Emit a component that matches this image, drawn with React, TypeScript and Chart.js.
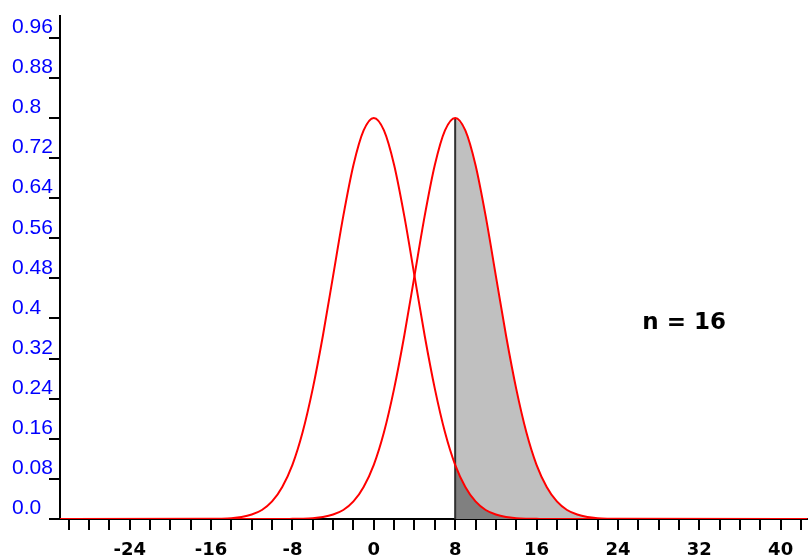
import React, { useEffect, useRef } from "react";
import { Chart, registerables } from "chart.js";

Chart.register(...registerables);

// x positions where the curves were read
const xGrid: number[] = [
  -31, -16, -15, -14, -13, -12, -11, -10, -9, -8, -7, -6, -5, -4, -3, -2, -1, 0, 1, 2, 3, 4, 5, 6, 7, 8, 9, 10,
  11, 12, 13, 14, 15, 16, 17, 18, 19, 20, 21, 22, 23, 24, 43,
];

// curve centred at 0 (null)
const nullDensity: number[] = [
  0, 0.0003, 0.0007, 0.0017, 0.004, 0.0089, 0.018, 0.035, 0.064, 0.108, 0.173, 0.26, 0.366, 0.485, 0.604,
  0.706, 0.775, 0.8, 0.775, 0.706, 0.604, 0.485, 0.366, 0.26, 0.173, 0.108, 0.064, 0.035, 0.018, 0.0089, 0.004,
  0.0017, 0.0007, 0.0003, 0, 0, 0, 0, 0, 0, 0, 0, 0,
];

// curve centred at 8 (alternative)
const altDensity: number[] = [
  0, 0, 0, 0, 0, 0, 0, 0, 0, 0.0003, 0.0007, 0.0017, 0.004, 0.0089, 0.018, 0.035, 0.064, 0.108, 0.173, 0.26,
  0.366, 0.485, 0.604, 0.706, 0.775, 0.8, 0.775, 0.706, 0.604, 0.485, 0.366, 0.26, 0.173, 0.108, 0.064, 0.035,
  0.018, 0.0089, 0.004, 0.0017, 0.0007, 0.0003, 0,
];

const criticalX = 8;
const criticalTop = 0.8;

const xTickValues: number[] = [
  -30, -28, -26, -24, -22, -20, -18, -16, -14, -12, -10, -8, -6, -4, -2, 0, 2, 4, 6, 8, 10, 12, 14, 16, 18, 20,
  22, 24, 26, 28, 30, 32, 34, 36, 38, 40, 42,
];
const xLabelledTicks: number[] = [-24, -16, -8, 0, 8, 16, 24, 32, 40];

const yTickValues: number[] = [0, 0.08, 0.16, 0.24, 0.32, 0.4, 0.48, 0.56, 0.64, 0.72, 0.8, 0.88, 0.96];
const yTickLabels: string[] = [
  "0.0", "0.08", "0.16", "0.24", "0.32", "0.4", "0.48", "0.56", "0.64", "0.72", "0.8", "0.88", "0.96",
];

const annotationText = "n = 16";
const annotationX = 26.4;
const annotationY = 0.378;

export default function App() {
  const canvasRef = useRef<HTMLCanvasElement | null>(null);

  useEffect(() => {
    document.body.style.margin = "0";
    const canvas = canvasRef.current;
    if (!canvas) return;

    const toPts = (ys: number[]) => xGrid.map((x, i) => ({ x, y: ys[i] }));
    const shade = (ys: number[]) =>
      xGrid.map((x, i) => ({ x, y: ys[i] })).filter((p) => p.x >= criticalX && p.x <= 24);

    const textPlugin = {
      id: "textPlugin",
      afterDraw(chart: any) {
        const { ctx, scales } = chart;
        const px = scales.x.getPixelForValue(annotationX);
        const py = scales.y.getPixelForValue(annotationY);
        ctx.save();
        ctx.fillStyle = "#000";
        ctx.font = "bold 23px 'DejaVu Sans'";
        ctx.textAlign = "left";
        ctx.textBaseline = "alphabetic";
        ctx.fillText(annotationText, px, py);
        ctx.restore();
      },
    };

    const chart = new Chart(canvas, {
      type: "scatter",
      data: {
        datasets: [
          {
            data: toPts(nullDensity),
            showLine: true,
            borderColor: "#ff0000",
            borderWidth: 2,
            pointRadius: 0,
            cubicInterpolationMode: "monotone",
            fill: false,
          },
          {
            data: toPts(altDensity),
            showLine: true,
            borderColor: "#ff0000",
            borderWidth: 2,
            pointRadius: 0,
            cubicInterpolationMode: "monotone",
            fill: false,
          },
          {
            data: [
              { x: criticalX, y: 0 },
              { x: criticalX, y: criticalTop },
            ],
            showLine: true,
            borderColor: "#303030",
            borderWidth: 2,
            pointRadius: 0,
            fill: false,
          },
          {
            data: shade(nullDensity),
            showLine: true,
            borderWidth: 0,
            borderColor: "rgba(0,0,0,0)",
            backgroundColor: "#808080",
            pointRadius: 0,
            cubicInterpolationMode: "monotone",
            fill: "origin",
          },
          {
            data: shade(altDensity),
            showLine: true,
            borderWidth: 0,
            borderColor: "rgba(0,0,0,0)",
            backgroundColor: "#c0c0c0",
            pointRadius: 0,
            cubicInterpolationMode: "monotone",
            fill: "origin",
          },
        ],
      },
      options: {
        animation: false,
        responsive: false,
        maintainAspectRatio: false,
        layout: { padding: { left: 12, top: 15, right: 1, bottom: 0 } },
        plugins: {
          legend: { display: false },
          tooltip: { enabled: false },
        },
        scales: {
          x: {
            type: "linear",
            min: -30.85,
            max: 42.61,
            afterBuildTicks: (s: any) => {
              s.ticks = xTickValues.map((v) => ({ value: v }));
            },
            afterFit: (s: any) => {
              s.height = 39;
            },
            ticks: {
              autoSkip: false,
              maxRotation: 0,
              minRotation: 0,
              padding: 10,
              color: "#000",
              font: { family: "'DejaVu Sans'", size: 18, weight: "bold" },
              callback: (v: any) => (xLabelledTicks.includes(Number(v)) ? String(v) : ""),
            },
            grid: {
              drawOnChartArea: false,
              drawTicks: true,
              tickLength: 11,
              color: "#000",
              lineWidth: 2,
            },
            border: { display: true, color: "#000", width: 2 },
          },
          y: {
            type: "linear",
            min: 0,
            max: 1.004,
            afterBuildTicks: (s: any) => {
              s.ticks = yTickValues.map((v) => ({ value: v }));
            },
            afterFit: (s: any) => {
              s.width = 48;
            },
            ticks: {
              autoSkip: false,
              crossAlign: "far",
              labelOffset: -10.5,
              color: "#0000ff",
              font: { family: "'Liberation Sans', Arial", size: 21 },
              callback: (_v: any, i: number) => yTickLabels[i],
            },
            grid: {
              drawOnChartArea: false,
              drawTicks: true,
              tickLength: 11,
              color: "#000",
              lineWidth: 2,
            },
            border: { display: true, color: "#000", width: 2 },
          },
        },
      },
      plugins: [textPlugin],
    } as any);

    return () => chart.destroy();
  }, []);

  return (
    <div style={{ position: "absolute", left: 0, top: 0, width: 811, height: 558, background: "#fff" }}>
      <canvas ref={canvasRef} width={811} height={558} />
    </div>
  );
}
